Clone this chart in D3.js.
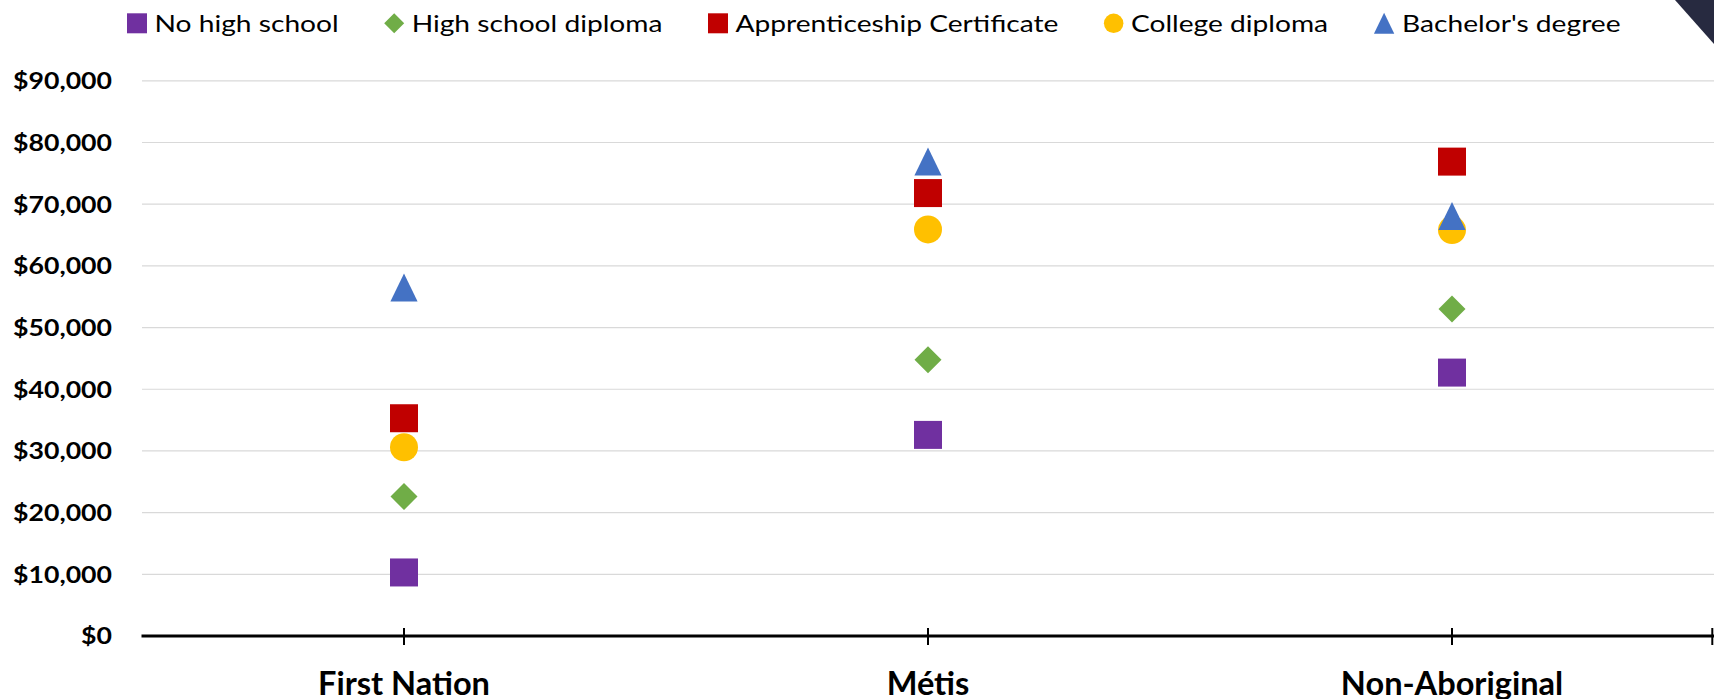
<!DOCTYPE html>
<html>
<head>
<meta charset="utf-8">
<script src="https://cdn.jsdelivr.net/npm/d3@7"></script>
<style>
  html, body { margin: 0; padding: 0; background: #ffffff; }
  svg { display: block; }
</style>
</head>
<body>
<svg id="chart" width="1714" height="699"></svg>
<script>
// ---------------- data ----------------
const categories = ["First Nation", "Métis", "Non-Aboriginal"];
const seriesNames = ["No high school", "High school diploma", "Apprenticeship Certificate", "College diploma", "Bachelor's degree"];
const noHighSchool      = [10300, 32600, 42700];
const highSchoolDiploma = [22600, 44800, 53000];
const apprenticeship    = [35300, 71800, 76900];
const collegeDiploma    = [30600, 65900, 65800];
const bachelorsDegree   = [56500, 76900, 68100];
const yTicks = [0, 10000, 20000, 30000, 40000, 50000, 60000, 70000, 80000, 90000];

// ---------------- styles ----------------
const seriesValues = [noHighSchool, highSchoolDiploma, apprenticeship, collegeDiploma, bachelorsDegree];
const seriesColors = ["#7030a0", "#70ad47", "#c00000", "#ffc000", "#4472c4"];
const seriesShapes = ["square", "diamond", "square", "circle", "triangle"];
const FONT = "Lato, 'Open Sans', sans-serif";

const svg = d3.select("#chart");
const W = 1714, H = 699;

const x = d3.scaleBand().domain(categories).range([142, 1714]).padding(0);
const y = d3.scaleLinear().domain([0, 90000]).range([636, 80.8]);
const cx = c => x(c) + x.bandwidth() / 2;

function shapePath(shape, s) {
  const h = s / 2;
  if (shape === "square") return `M${-h},${-h}H${h}V${h}H${-h}Z`;
  if (shape === "diamond") return `M0,${-h}L${h},0L0,${h}L${-h},0Z`;
  if (shape === "triangle") return `M0,${-h}L${h * 0.97},${h}L${-h * 0.97},${h}Z`;
  if (shape === "circle") return `M${-h},0A${h},${h} 0 1,0 ${h},0A${h},${h} 0 1,0 ${-h},0Z`;
}

// measure helper for horizontal fitting of fallback font
function naturalWidth(text, size, weight) {
  const t = svg.append("text").attr("font-family", FONT).attr("font-size", size)
    .attr("font-weight", weight).text(text);
  const w = t.node().getComputedTextLength();
  t.remove();
  return w;
}

// ---------------- gridlines ----------------
svg.append("g").selectAll("line").data(yTicks.filter(d => d > 0)).join("line")
  .attr("x1", 142).attr("x2", W)
  .attr("y1", d => y(d)).attr("y2", d => y(d))
  .attr("stroke", "#d9d9d9").attr("stroke-width", 1.2);

// ---------------- y labels ----------------
const yFmt = d => "$" + d3.format(",")(d);
const ySize = 23.5;
const yScaleX = 99 / naturalWidth("$90,000", ySize, 700);
svg.append("g").selectAll("text").data(yTicks).join("text")
  .attr("transform", d => `translate(112,${y(d)}) scale(${yScaleX},1)`)
  .attr("text-anchor", "end").attr("dy", "0.36em")
  .attr("font-family", FONT).attr("font-size", ySize).attr("font-weight", 700)
  .attr("fill", "#000").text(yFmt);

// ---------------- x axis ----------------
svg.append("line").attr("x1", 141.5).attr("x2", W).attr("y1", y(0)).attr("y2", y(0))
  .attr("stroke", "#000").attr("stroke-width", 3);
const tickXs = categories.map(cx).concat([1712.3]);
svg.append("g").selectAll("line").data(tickXs).join("line")
  .attr("x1", d => d).attr("x2", d => d).attr("y1", 628).attr("y2", 645)
  .attr("stroke", "#000").attr("stroke-width", 2);

const catSize = 32;
const catScaleX = 172 / naturalWidth("First Nation", catSize, 700);
svg.append("g").selectAll("text").data(categories).join("text")
  .attr("transform", d => `translate(${cx(d)},694.5) scale(${catScaleX},1)`)
  .attr("text-anchor", "middle")
  .attr("font-family", FONT).attr("font-size", catSize).attr("font-weight", 700)
  .attr("fill", "#000").text(d => d);

// ---------------- markers ----------------
const markerSizes = { square: 28, diamond: 27, circle: 28, triangle: 28 };
seriesValues.forEach((vals, i) => {
  svg.append("g").selectAll("path").data(vals).join("path")
    .attr("transform", (v, j) => `translate(${cx(categories[j])},${y(v)})`)
    .attr("d", shapePath(seriesShapes[i], markerSizes[seriesShapes[i]]))
    .attr("fill", seriesColors[i]);
});

// ---------------- legend ----------------
const legSize = 23;
const legTotal = d3.sum(seriesNames, n => naturalWidth(n, legSize, 400));
const legScaleX = 1174 / legTotal;
const legendMarker = { square: 20, diamond: 20, circle: 19.5, triangle: 21 };
let lx = 127;
const ly = 23.3;
const legend = svg.append("g");
seriesNames.forEach((name, i) => {
  const s = legendMarker[seriesShapes[i]];
  legend.append("path")
    .attr("transform", `translate(${lx + s / 2},${ly})`)
    .attr("d", shapePath(seriesShapes[i], s))
    .attr("fill", seriesColors[i]);
  const tx = lx + s + 7.5;
  const t = legend.append("text")
    .attr("transform", `translate(${tx},${ly}) scale(${legScaleX},1)`)
    .attr("dy", "0.36em")
    .attr("font-family", FONT).attr("font-size", legSize).attr("font-weight", 400)
    .attr("fill", "#000").text(name);
  const tw = t.node().getComputedTextLength() * legScaleX;
  lx = tx + tw + 45.5;
});

// ---------------- decorative corner ----------------
svg.append("path").attr("d", "M1675,0L1714,0L1714,44Z").attr("fill", "#272a40");
</script>
</body>
</html>
